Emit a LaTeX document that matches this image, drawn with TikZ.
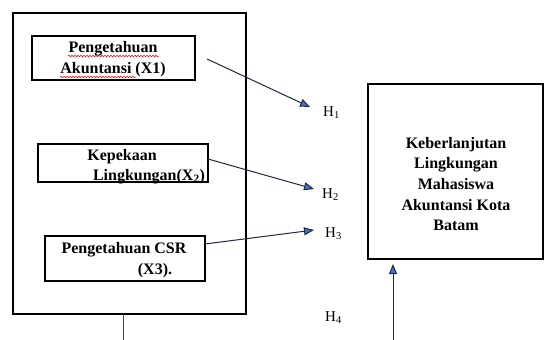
\documentclass[tikz,border=0pt]{standalone}
\usepackage{fontspec}
\setmainfont{Liberation Serif}
\usetikzlibrary{arrows.meta,decorations.pathmorphing}
\definecolor{arrowblue}{HTML}{4472C4}
\definecolor{linedark}{HTML}{1F2A3C}
\tikzset{
  box/.style={draw=black, line width=1.3pt},
  txt/.style={font=\bfseries\fontsize{16}{20.7}\selectfont, inner sep=0pt, anchor=base},
  hlab/.style={font=\fontsize{15}{17}\selectfont, inner sep=0pt, anchor=base west},
  conn/.style={draw=linedark, line width=1pt, -{Triangle[length=10pt,width=8pt,fill=arrowblue]}},
  squig/.style={draw=red, line width=0.5pt, decorate, decoration={snake, amplitude=0.8pt, segment length=3pt}}
}
\begin{document}
\begin{tikzpicture}[x=1pt,y=-1pt]
\useasboundingbox (0,0) rectangle (544,340);
% outer frame
\draw[box] (13,13) rectangle (246,314);
\coordinate (outerbot) at (123,314);
\coordinate (outerend) at (123,340);
\draw[line width=0.8pt, black!70] (outerbot) -- (outerend);
% box 1
\draw[box] (32,36) rectangle (195,80);
\node[txt] (t1a) at (113,52) {Pengetahuan};
\node[txt] (t1b) at (113,73) {Akuntansi (X1)};
\draw[squig] (68,56) -- (159,56);
\draw[squig] (60,77) -- (136,77);
\coordinate (a1s) at (207,59);
% box 2
\draw[box] (38,144) rectangle (208,182);
\node[txt] (t2a) at (122,160) {Kepekaan};
\node[txt] (t2b) at (149,180) {Lingkungan(X\textsubscript{2})};
\coordinate (a2s) at (208,159);
% box 3
\draw[box] (45,236) rectangle (205,281);
\node[txt] (t3a) at (124,253) {Pengetahuan CSR};
\node[txt] (t3b) at (155,274) {(X3).};
\coordinate (a3s) at (205,244);
% right box
\draw[box] (368,84) rectangle (543,259);
\node[txt, align=center, anchor=center] (dv) at (456,184) {Keberlanjutan\\Lingkungan\\Mahasiswa\\Akuntansi Kota\\Batam};
% hypothesis labels
\node[hlab] (h1) at (323,116) {H\textsubscript{1}};
\node[hlab] (h2) at (322,198) {H\textsubscript{2}};
\node[hlab] (h3) at (325,237) {H\textsubscript{3}};
\node[hlab] (h4) at (325,321) {H\textsubscript{4}};
% arrow targets
\coordinate (a1e) at (310,107);
\coordinate (a2e) at (314,189);
\coordinate (a3e) at (314,230);
\coordinate (a4s) at (393,340);
\coordinate (a4e) at (393,264);
\draw[conn] (a1s) -- (a1e);
\draw[conn] (a2s) -- (a2e);
\draw[conn] (a3s) -- (a3e);
\draw[conn] (a4s) -- (a4e);
\end{tikzpicture}
\end{document}
